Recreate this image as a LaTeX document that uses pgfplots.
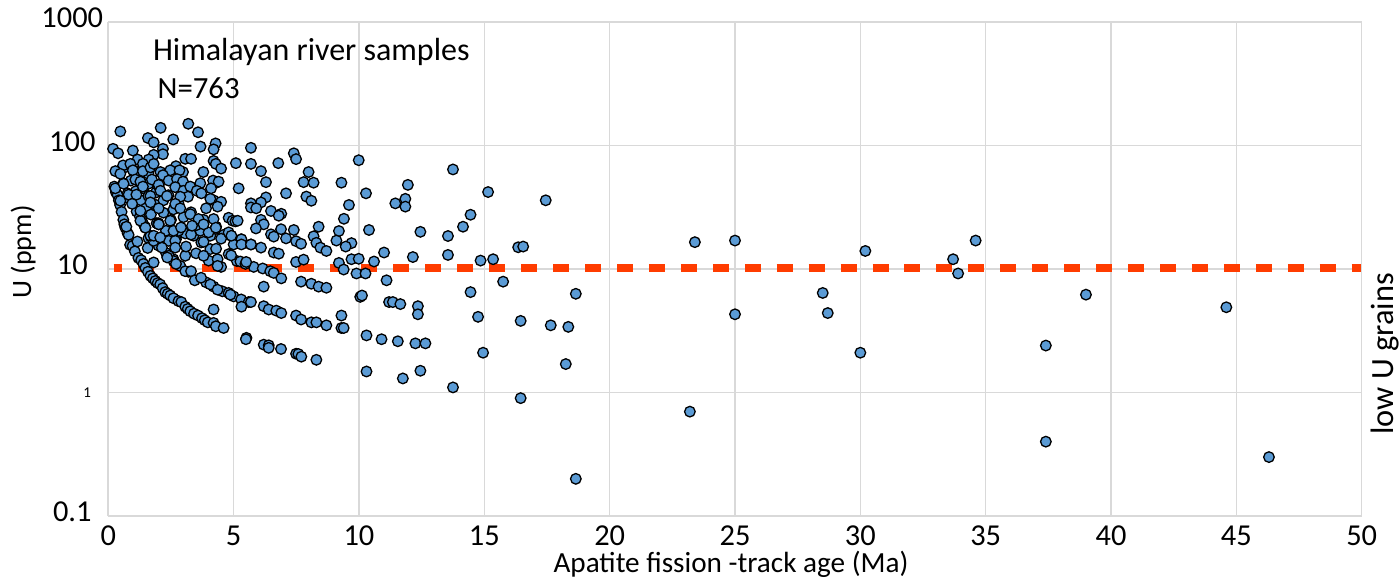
\documentclass[border=0pt]{standalone}
\usepackage{fontspec}
\setmainfont{Carlito}
\usepackage{pgfplots}
\pgfplotsset{compat=1.18}
\definecolor{gridc}{HTML}{D9D9D9}
\definecolor{dotc}{HTML}{5B9BD5}
\definecolor{cutc}{HTML}{FF3C00}
\begin{document}
\begin{tikzpicture}[x=1pt,y=1pt]
\path[use as bounding box] (0,0) rectangle (700,290);
\begin{axis}[
  at={(54.15pt,32pt)}, anchor=south west,
  scale only axis, width=626.7pt, height=247pt,
  ymode=log, log basis y=10,
  xmin=0, xmax=50, ymin=0.1, ymax=1000,
  xtick={0,5,...,50},
  ytick={0.1,1,10,100,1000},
  yticklabels={0.1,{\hspace*{15pt}\raisebox{-2pt}[5pt][0pt]{\fontsize{7.5}{8}\selectfont 1}},10,100,1000},
  minor tick num=0, yminorticks=false,
  grid=major, grid style={gridc,line width=0.6pt},
  major tick length=0pt,
  axis line style={gridc,line width=0.6pt},
  tick label style={font=\fontsize{15.2}{17}\selectfont},
  /pgf/number format/assume math mode=true,
  xticklabel style={inner ysep=0pt,yshift=-4.8pt},
  yticklabel style={anchor=center,xshift=-18pt,yshift=2pt},
  clip=false,
]
% left and bottom spines are heavier than the grid
\addplot[gridc,line width=1pt,forget plot] coordinates {(0,0.1) (0,1000)};
\addplot[gridc,line width=1pt,forget plot] coordinates {(0,0.1) (50,0.1)};
\addplot[only marks, mark=*, mark size=2.65pt,
  mark options={fill=dotc,draw=black,line width=0.65pt}] coordinates {
  % lowest band
  (0.24,46.5)(0.3,42)(0.37,39.7)(0.42,36)(0.47,33)(0.53,29)(0.6,25)(0.64,23)(0.68,21.6)(0.77,19.5)(0.81,18.9)(0.87,15.7)(0.97,15.4)(1.06,13.9)
  (1.2,12.3)(1.31,11.8)(1.4,11)(1.48,10.2)(1.58,9.5)(1.68,8.8)(1.78,8.4)(1.88,8)(1.97,7.7)(2.07,7.5)(2.17,7)(2.27,6.5)(2.37,6.3)(2.47,6.1)(2.6,5.8)(2.8,5.5)(2.91,5.4)(3.07,4.95)
  (3.17,4.75)(3.27,4.55)(3.42,4.35)(3.58,4.2)(3.74,4)(3.85,3.85)(3.97,3.7)(4.2,3.66)(4.29,3.44)(4.6,3.33)(4.2,4.7)(5.51,2.77)
  (6.2,2.44)(6.4,2.41)(6.4,2.3)(6.89,2.25)(7.49,2.06)(7.58,2.05)(7.7,1.95)(8.3,1.84)
  % second band
  (0.6,49.5)(0.77,41)(0.85,37)(1,35)(1.13,29.2)(1.26,26.6)(1.36,24)(1.46,22)(1.6,17.8)(1.93,23.5)(2.06,15.4)(1.16,16.7)(1.57,14.8)(1.7,18.2)(2,15.5)(2.3,13.5)(2.6,12)
  (1.81,16.9)(2.41,12.8)(2.6,11.6)(2.87,10.6)(3.07,12.8)(1.81,11.3)(2.35,12.4)(2.7,11)(3.2,9.5)(3.9,7.8)(4.2,7.2)(4.55,6.6)
  (3.07,9.6)(3.3,9.6)(3.45,8.1)(3.7,8.5)(4.07,7.5)(4.36,6.8)(4.8,6.4)(5,6)(5.3,5.67)(5.6,5.4)(5.69,5.4)(5.31,4.95)(4.87,6.2)
  (6.2,5)(6.4,4.7)(6.7,4.6)(6.9,4.4)(7.49,4.2)(7.69,3.9)(8.1,3.7)(8.3,3.7)(8.7,3.5)(9.3,3.33)(9.39,3.33)(9.3,4.2)
  % third band
  (0.7,67)(0.9,52)(1.1,42.7)(1.3,36)(1.5,31)(1.7,27.6)(2,23.5)(2.3,20.4)(2.7,17.4)(3.1,15.2)(3.5,13.4)(4,11.7)(4.5,10.4)
  (2.41,16.9)(2.67,16.9)(2.67,14.9)(3.4,18.6)(3.71,16.4)(4.07,14.5)(3.8,12.8)(4.36,12)(4.8,13.2)(5.13,11.6)(5.49,11.3)(5.8,10.4)
  (5.27,11.5)(5.47,11)(6.16,10.1)(6.46,9.6)(6.6,9.3)(6.9,8.4)(6.2,7.2)(7.69,7.9)(8.1,7.6)(8.39,7.2)(8.7,7.05)
  (5.3,17.4)(5.69,15.8)(4.9,18.6)(4.6,18.9)(4.27,21)(4.07,18.6)(3.67,20.4)(3.27,19.1)(3.07,19.4)(2.8,20.4)(2.6,20.4)
  (2.01,23)(1.68,18.6)(1.81,18.6)(1.48,21.6)(1.28,24.6)(2.07,18)(2.14,14.9)(4.36,10.6)
  % fourth to sixth bands
  (1,63)(1.2,52)(1.4,45)(1.6,39)(1.9,33)(2.2,28.6)(2.5,25)(2.9,21.7)(3.3,19)(3.8,16.6)(4.3,14.6)(4.9,12.9)(5.5,11.4)
  (1.3,60)(1.6,49)(1.9,41.6)(2.2,36)(2.6,30.4)(3,26.3)(3.5,22.6)(4,19.8)(4.5,17.6)(5,15.8)
  (1.6,59)(2,47.5)(2.4,39.6)(2.8,34)(3.3,28.8)(3.8,25)(4.3,22)(4.8,19.8)
  % upper cloud, under 5 Ma
  (0.48,130)(2.09,139)(3.19,150)(3.58,128)(1.58,115)(1.81,106)(2.59,112)(3.68,98)(4.28,104)(4.2,93)(2.18,94)(2.18,85)
  (1.81,84)(0.19,94)(0.39,86.5)(0.98,91)(1.17,77)(1.61,77)(1.38,71)(0.59,69)(0.88,71)(3.07,78)(3.3,78)(4.2,75)(4.29,71)
  (4.5,65)(2.7,68)(2.47,63)(2.98,61)(2.84,63)(3.79,61)(0.28,62)(0.48,59)(0.98,63)(1.38,62)(2.08,61)(2.18,57.5)(1.68,66.5)
  (1.81,71)(2.41,52)(2.74,53.5)(2.98,51)(3.67,49.5)(4.29,49.8)(4.18,52)(4.4,51)(4.1,45)(1.08,53)(1.28,51)(1.74,53)(2.01,48)
  (1.38,46.5)(0.28,45)(0.61,49)(0.81,40)(1.12,40)(2.08,43)(2.67,46)(3,43)(3.27,46.5)(3.53,43)(3.71,41)(3.18,38.5)(2.87,38.5)
  (2.34,39)(1.68,39)(0.48,35.7)(0.95,33.7)(1.28,29.6)(1.68,34.6)(2.01,31)(2.67,33.7)(2.87,31)(3.27,27.8)(3.6,25.4)(2.47,24.6)
  (4.2,36)(4.5,35)(4.07,37)(3.9,31)(4.36,32)(4.2,25.4)(4.8,26)(4.96,24.6)(5.07,24.3)(5.16,24.6)(4.29,21.6)(3.8,23)(3.34,22.4)
  (2.01,23)(1.48,21.6)(0.72,22)
  % 5 to 10 Ma
  (5.69,95.8)(5.09,72)(5.69,71)(6.09,62)(6.78,72)(7.4,86.5)(7.49,77.6)(9.99,76)(7.99,61)(7.79,50.5)(8.19,50)(9.3,50)(6.29,50.5)
  (5.2,45)(10.28,41)(7.09,41)(7.9,38.6)(8.1,35.7)(6.29,38)(6.09,34.6)(5.69,34)(5.69,31.5)(5.9,31)(9.6,33)(6.49,29.5)(6.9,28)
  (6.8,27)(9.4,25.5)(6.09,25)(6.2,23)(5.89,21.3)(6.89,21)(7.4,20.7)(8.39,22)(9.2,20.3)(10.4,20.7)(8.19,18.4)(6.49,19.1)(6.6,18.3)
  (7.09,17.7)(7.49,16.8)(7.69,16)(8.3,16.3)(9.1,17)(9.7,16.2)(9.47,15.2)(5.31,17.4)(5.31,15.8)(5.69,15.8)(6.09,14.9)(4.91,18.6)
  (8.46,14.9)(8.7,14)(6.6,13.6)(6.8,13.3)(7.49,11.4)(7.79,11.9)(9.2,11.2)(9.39,9.9)(9.7,12)(9.99,12.1)(9.9,9.2)(10.26,9.2)
  % 10 to 19 Ma
  (10.6,11.5)(11,13.6)(11.1,8.1)(10.05,5.95)(10.12,6.1)(11.2,5.4)(11.35,5.4)(11.65,5.2)(12.35,5)(12.35,4.3)(10.3,2.9)(10.9,2.7)
  (5.49,2.7)(10.3,1.48)(11.55,2.6)(12.25,2.5)(12.65,2.5)(11.75,1.3)(12.45,1.5)(11.95,48)(11.85,37)(11.85,32)(11.45,34)(12.45,20)(12.15,12.5)
  (13.75,64)(15.15,42)(14.45,27.5)(14.15,22)(13.55,18.5)(13.55,13)(14.85,11.7)(15.35,12)(16.35,15)(16.55,15.2)(17.45,36)(15.75,7.9)(14.45,6.5)
  (14.75,4.1)(14.95,2.1)(13.75,1.1)(16.45,3.8)(17.65,3.5)(18.35,3.4)(18.65,6.3)(18.25,1.7)(16.45,0.9)(18.65,0.2)
  % older grains
  (23.4,16.5)(25,17)(30.2,14)(34.6,17)(33.7,12)(33.9,9.2)(28.5,6.4)(28.7,4.4)(25,4.3)(23.2,0.7)(30,2.1)
  (37.4,2.4)(37.4,0.4)(39,6.2)(44.6,4.9)(46.3,0.3)
};
% low U cut-off
\addplot[cutc,line width=4pt,dash pattern=on 8pt off 7.97pt,dash phase=3.8pt] coordinates {(0.21,10.1) (49.96,10.1)};
\end{axis}
\node[anchor=base west,inner sep=0pt,font=\fontsize{16}{18}\selectfont] at (76.3,260) {Himalayan river samples};
\node[anchor=base west,inner sep=0pt,font=\fontsize{15.4}{18}\selectfont] at (78.6,241) {N=763};
\node[rotate=90,anchor=base,inner sep=0pt,font=\fontsize{14}{17}\selectfont] at (15.5,164) {U (ppm)};
\node[inner sep=0pt,font=\fontsize{14.6}{16}\selectfont] at (365.5,8) {Apatite fission -track age (Ma)};
\node[rotate=90,anchor=base,inner sep=0pt,font=\fontsize{16.2}{18}\selectfont] at (696.5,113) {low U grains};
\end{tikzpicture}
\end{document}
